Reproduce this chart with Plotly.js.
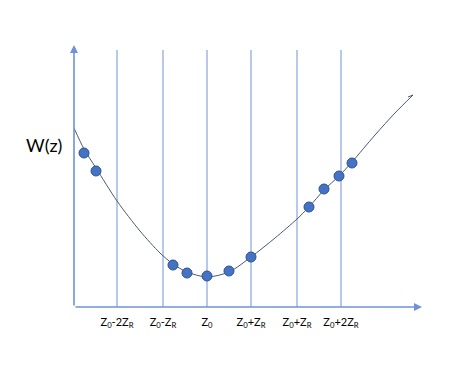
<!DOCTYPE html>
<html>
<head>
<meta charset="utf-8">
<script src="https://cdn.plot.ly/plotly-3.0.1.min.js"></script>
<style>html,body{margin:0;padding:0;background:#fff;}#chart{width:470px;height:365px;}</style>
</head>
<body>
<div id="chart"></div>
<script>
// positions along z (chart units: horizontal), W values (vertical units above the z axis)
const gridZ = [117, 163, 207, 251, 297, 341];
const gridLabels = ['Z<sub>0</sub>-2Z<sub>R</sub>', 'Z<sub>0</sub>-Z<sub>R</sub>', 'Z<sub>0</sub>',
                    'Z<sub>0</sub>+Z<sub>R</sub>', 'Z<sub>0</sub>+Z<sub>R</sub>', 'Z<sub>0</sub>+2Z<sub>R</sub>'];
const pointZ = [84, 96, 173, 187, 207, 229, 251, 309, 324, 339, 352];
const pointW = [154, 136, 42, 34, 31, 36, 50, 100, 118, 131, 144];
const curveZ = [74, 84, 96, 117, 140, 160, 173, 187, 207, 229, 251, 275, 297, 309, 324, 339, 352, 375, 395, 413];
const curveW = [179, 158, 139, 106, 76, 54, 43, 35, 30, 35, 50, 69, 88, 100, 117, 131, 145, 172, 194, 212];
const hookZ = [413, 408];
const hookW = [212, 210];
const axisTop = 262, gridTop = 257, axisEnd = 422;

const blue = '#4472C4';
const traces = [
  {x: curveZ, y: curveW, mode: 'lines', line: {color: '#4A5A78', width: 1, shape: 'spline', smoothing: 0.8}, hoverinfo: 'skip'},
  {x: hookZ, y: hookW, mode: 'lines', line: {color: '#4A5A78', width: 1}, hoverinfo: 'skip'},
  {x: pointZ, y: pointW, mode: 'markers', marker: {size: 10, color: blue, line: {color: '#2F528F', width: 1}}}
];
const shapes = gridZ.map(z => ({type: 'line', xref: 'x', yref: 'y', x0: z, x1: z, y0: 0, y1: gridTop,
  line: {color: '#6E92D8', width: 1}, layer: 'below'}));
const annotations = [
  {x: axisEnd, y: 0, ax: 74, ay: 0, axref: 'x', ayref: 'y', xref: 'x', yref: 'y', text: '', showarrow: true,
   arrowhead: 2, arrowsize: 1, arrowwidth: 1.6, arrowcolor: '#6E92D8'},
  {x: 74, y: axisTop, ax: 74, ay: 0, axref: 'x', ayref: 'y', xref: 'x', yref: 'y', text: '', showarrow: true,
   arrowhead: 2, arrowsize: 1, arrowwidth: 1.6, arrowcolor: '#6E92D8'},
  {x: -0.08, y: 162, xref: 'paper', yref: 'y', xanchor: 'center', yanchor: 'middle', text: 'W(z)', showarrow: false,
   font: {family: 'Lato, sans-serif', size: 18, color: '#000'}}
];
Plotly.newPlot('chart', traces, {
  width: 470, height: 365,
  margin: {l: 74, r: 20, t: 20, b: 58},
  paper_bgcolor: '#fff', plot_bgcolor: '#fff',
  showlegend: false,
  xaxis: {range: [74, 450], showgrid: false, zeroline: false, showline: false, ticks: '',
          tickvals: gridZ, ticktext: gridLabels, tickfont: {family: 'Lato, sans-serif', size: 11, color: '#000'},
          ticklabelstandoff: 7},
  yaxis: {range: [0, 287], showgrid: false, zeroline: false, showline: false, showticklabels: false, ticks: ''},
  shapes: shapes, annotations: annotations
}, {staticPlot: true});
</script>
</body>
</html>
